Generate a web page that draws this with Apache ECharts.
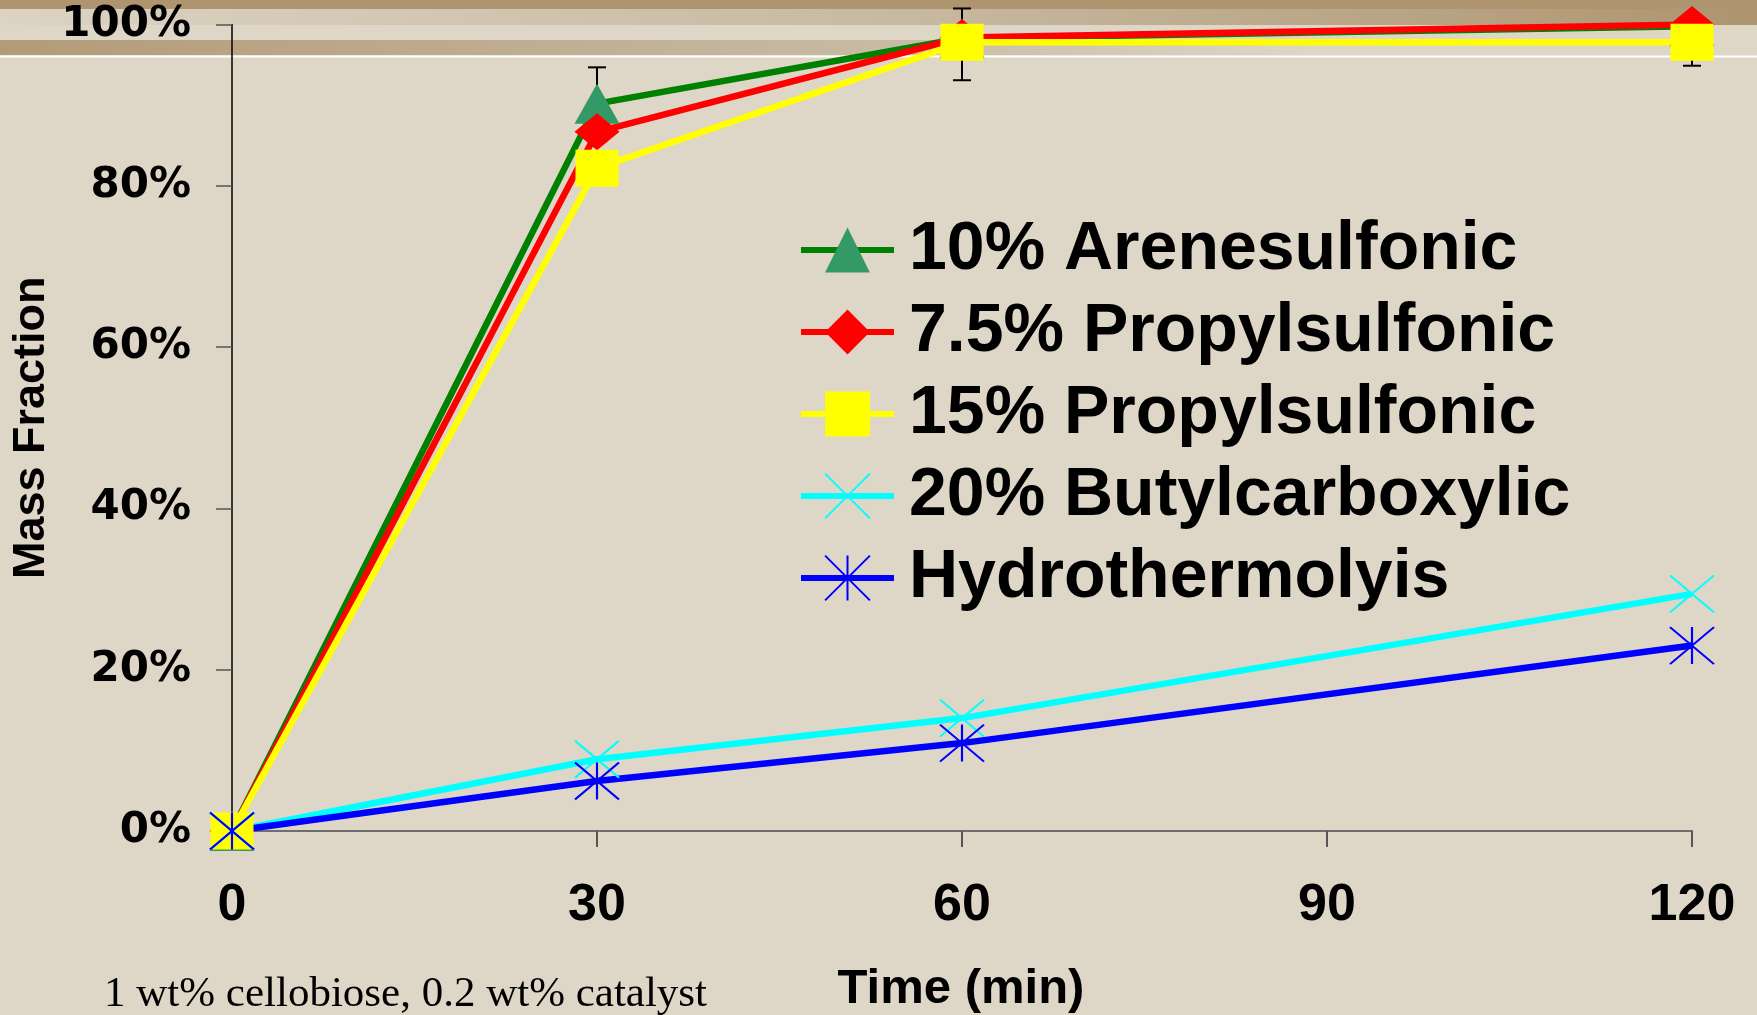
<!DOCTYPE html>
<html>
<head>
<meta charset="utf-8">
<script src="https://cdn.jsdelivr.net/npm/echarts@6/dist/echarts.min.js"></script>
<style>
html,body{margin:0;padding:0;background:#DED6C7;}
#chart{width:1757px;height:1015px;}
</style>
</head>
<body>
<div id="chart"></div>
<script>
// ---- data ----
const timeMin = [0, 30, 60, 120];
const seriesNames = ['10% Arenesulfonic', '7.5% Propylsulfonic', '15% Propylsulfonic', '20% Butylcarboxylic', 'Hydrothermolyis'];
const arenesulfonic10 = [0, 90.2, 98.3, 99.8];
const propylsulfonic75 = [0, 86.7, 98.4, 100.0];
const propylsulfonic15 = [0, 82.2, 97.8, 97.8];
const butylcarboxylic20 = [0, 8.9, 14.0, 29.4];
const hydrothermolysis = [0, 6.2, 10.9, 23.0];
const errTime = [30, 60, 120];
const errLow = [85.7, 93.1, 94.9];
const errHigh = [94.7, 102.0, 101.0];
const yTicks = [0, 20, 40, 60, 80, 100];
const xTicks = [0, 30, 60, 90, 120];
const xTitle = 'Time (min)';
const yTitle = 'Mass Fraction';
const footnote = '1 wt% cellobiose, 0.2 wt% catalyst';

const pairs = arr => timeMin.map((t, i) => [t, arr[i]]);
const errData = errTime.map((t, i) => [t, errLow[i], errHigh[i]]);

const chart = echarts.init(document.getElementById('chart'));
const xSym = 'path://M0,0L44,37M44,0L0,37';
const starSym = 'path://M0,0L44,37M44,0L0,37M22,0L22,37';

function lineSeries(name, data, lineColor, markColor, symbol, size, stroke) {
  return {
    name: name, type: 'line', data: pairs(data), z: 2,
    symbol: symbol, symbolSize: size, showAllSymbol: true,
    lineStyle: { color: lineColor, width: 6.5 },
    itemStyle: stroke ? { color: markColor, borderColor: markColor, borderWidth: 2 } : { color: markColor, borderWidth: 0 },
    emphasis: { disabled: true }
  };
}

const option = {
  backgroundColor: '#DED6C7',
  animation: false,
  grid: { left: 232, right: 65, top: 24.6, bottom: 184, containLabel: false, outerBoundsMode: 'none' },
  xAxis: {
    type: 'value', min: xTicks[0], max: xTicks[xTicks.length - 1], interval: 30,
    axisLine: { lineStyle: { color: '#6E6E6E', width: 2 } },
    axisTick: { show: true, length: 16, lineStyle: { color: '#555', width: 2 } },
    splitLine: { show: false },
    axisLabel: { margin: 49, fontFamily: 'Liberation Sans, Arial, sans-serif', fontWeight: 'bold', fontSize: 52, color: '#000' }
  },
  yAxis: {
    type: 'value', min: yTicks[0], max: yTicks[yTicks.length - 1], interval: 20,
    name: yTitle, nameLocation: 'middle', nameRotate: 90, nameGap: 178, nameMoveOverlap: false,
    nameTextStyle: { fontFamily: 'Liberation Sans, Arial, sans-serif', fontWeight: 'bold', fontSize: 45, color: '#000' },
    axisLine: { show: true, lineStyle: { color: '#000', width: 1.5 } },
    axisTick: { show: true, length: 16, lineStyle: { color: '#555', width: 1.5 } },
    splitLine: { show: false },
    axisLabel: { margin: 41, formatter: '{value}%', fontFamily: 'DejaVu Sans, sans-serif', fontWeight: 'bold', fontSize: 42, color: '#000' }
  },
  legend: {
    orient: 'vertical', left: 798, top: 209, padding: 0, itemGap: 0,
    itemWidth: 93, itemHeight: 56,
    lineStyle: { width: 6 },
    data: seriesNames,
    textStyle: { fontFamily: 'Liberation Sans, Arial, sans-serif', fontWeight: 'bold', fontSize: 68, lineHeight: 82, color: '#000', padding: [0, 0, 0, 10] }
  },
  graphic: [
    { type: 'rect', z: -10, shape: { x: 0, y: 0, width: 1757, height: 9 }, style: { fill: '#AE956F' } },
    { type: 'rect', z: -10, shape: { x: 0, y: 9, width: 1757, height: 16 },
      style: { fill: new echarts.graphic.LinearGradient(0, 0, 1, 0, [{ offset: 0, color: '#DCD3C3' }, { offset: 0.5, color: '#C8BAA2' }, { offset: 1, color: '#AE9570' }]) } },
    { type: 'rect', z: -10, shape: { x: 0, y: 40, width: 1757, height: 15 },
      style: { fill: new echarts.graphic.LinearGradient(0, 0, 1, 0, [{ offset: 0, color: '#B39B78' }, { offset: 0.5, color: '#C8BAA3' }, { offset: 0.75, color: '#DED6C7' }, { offset: 1, color: '#DED6C7' }]) } },
    { type: 'rect', z: -10, shape: { x: 0, y: 55.5, width: 1757, height: 2 }, style: { fill: '#FFFFFF' } },
    { type: 'text', z: 5, x: 961, y: 989,
      style: { text: xTitle, x: 0, y: 0, textAlign: 'center', textVerticalAlign: 'middle', font: 'bold 49px "Liberation Sans", Arial, sans-serif', fill: '#000' } },
    { type: 'text', z: 5, x: 104, y: 995,
      style: { text: footnote, x: 0, y: 0, textAlign: 'left', textVerticalAlign: 'middle', font: '43px "Liberation Serif", "Times New Roman", serif', fill: '#000' } }
  ],
  series: [
    {
      type: 'custom', name: 'errorbars', z: 1, clip: false,
      data: errData, encode: { x: 0, y: [1, 2] },
      renderItem: function (params, api) {
        const x = api.value(0);
        const p1 = api.coord([x, api.value(2)]);
        const p2 = api.coord([x, api.value(1)]);
        const w = 9;
        const st = { stroke: '#000', lineWidth: 2 };
        return { type: 'group', children: [
          { type: 'line', shape: { x1: p1[0], y1: p1[1], x2: p2[0], y2: p2[1] }, style: st },
          { type: 'line', shape: { x1: p1[0] - w, y1: p1[1], x2: p1[0] + w, y2: p1[1] }, style: st },
          { type: 'line', shape: { x1: p2[0] - w, y1: p2[1], x2: p2[0] + w, y2: p2[1] }, style: st }
        ] };
      }
    },
    lineSeries(seriesNames[0], arenesulfonic10, '#008000', '#339966', 'triangle', [45, 40], false),
    lineSeries(seriesNames[1], propylsulfonic75, '#FF0000', '#FF0000', 'diamond', [45, 37], false),
    lineSeries(seriesNames[2], propylsulfonic15, '#FFFF00', '#FFFF00', 'rect', [43, 37], false),
    lineSeries(seriesNames[3], butylcarboxylic20, '#00FFFF', '#00FFFF', xSym, [44, 37], true),
    lineSeries(seriesNames[4], hydrothermolysis, '#0000FF', '#0000FF', starSym, [44, 37], true)
  ]
};
chart.setOption(option);
</script>
</body>
</html>
